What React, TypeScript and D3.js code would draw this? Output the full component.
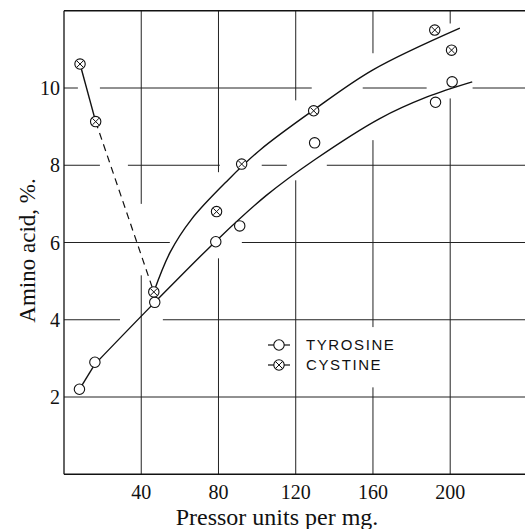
import React from "react";
import * as d3 from "d3";

// tick values
const xTicks = [40, 80, 120, 160, 200];
const yTicks = [2, 4, 6, 8, 10];

// measured points
const tyrosinePts: [number, number][] = [
  [8, 2.2], [16, 2.9], [47, 4.45], [78.6, 6.02], [91, 6.43],
  [129.8, 8.58], [192.4, 9.63], [201, 10.16],
];
const cystinePts: [number, number][] = [
  [8.3, 10.62], [16.4, 9.13], [46.5, 4.72], [79, 6.8], [92, 8.03],
  [129.3, 9.41], [192, 11.5], [200.7, 10.98],
];

// fitted curves as drawn
const tyrosineHead: [number, number][] = [[8, 2.2], [16, 2.85], [47, 4.45]];
const tyrosineCurve: [number, number][] = [
  [16, 2.85], [47, 4.45], [80, 6.1], [104.8, 7.22], [130, 8.15],
  [163.5, 9.21], [188, 9.77], [211.4, 10.16],
];
const cystineCurve: [number, number][] = [
  [46.5, 4.72], [55, 5.75], [66, 6.6], [85, 7.62], [101.4, 8.39],
  [129.3, 9.43], [160, 10.47], [205, 11.55],
];
const cystineSolidHead: [number, number][] = [[8.3, 10.62], [16.4, 9.13]];
const cystineDashed: [number, number][] = [[16.4, 9.13], [46.5, 4.72]];

// breaks in the printed grid (data units)
const hGridGaps: Record<number, [number, number][]> = {
  2: [],
  4: [[29, 51.2]],
  6: [[54.8, 92.1]],
  8: [[18.6, 33.1], [80.7, 102.4], [115.4, 136.1]],
  10: [[7.2, 18.6], [128.3, 154.7], [187.8, 211.6]],
};
const vGridGaps: Record<number, [number, number][]> = {
  40: [[5.15, 7.0]],
  80: [[5.59, 7.82]],
  120: [[7.61, 9.68]],
  160: [[2.25, 3.81], [8.65, 10.9]],
  200: [[9.73, 11.67]],
};

const legendItems = ["TYROSINE", "CYSTINE"];

const W = 525;
const H = 529;
const left = 64;
const top = 10.75;
const bottom = 474.25;

function segments(lo: number, hi: number, gaps: [number, number][]) {
  const out: [number, number][] = [];
  let s = lo;
  gaps.forEach(([a, b]) => {
    out.push([s, a]);
    s = b;
  });
  out.push([s, hi]);
  return out;
}

const Marker = ({ cx, cy, cross }: { cx: number; cy: number; cross: boolean }) => {
  const r = 5.2;
  const k = r * 0.62;
  return (
    <g>
      <circle cx={cx} cy={cy} r={r} fill="#fff" stroke="#111" strokeWidth={1.1} />
      {cross && (
        <path
          d={`M${cx - k},${cy - k}L${cx + k},${cy + k}M${cx - k},${cy + k}L${cx + k},${cy - k}`}
          stroke="#111"
          strokeWidth={1}
        />
      )}
    </g>
  );
};

export default function App() {
  const x = d3.scaleLinear().domain([0, 240]).range([left, left + 240 * 1.931]);
  const y = d3.scaleLinear().domain([0, 12]).range([bottom, top]);
  const xMax = x.invert(W);

  const curve = d3
    .line<[number, number]>()
    .x((d) => x(d[0]))
    .y((d) => y(d[1]))
    .curve(d3.curveCatmullRom.alpha(0.5));
  const straight = d3
    .line<[number, number]>()
    .x((d) => x(d[0]))
    .y((d) => y(d[1]));

  const serif = "'Liberation Serif', 'DejaVu Serif', serif";
  const ink = "#111";

  return (
    <svg
      width={W}
      height={H}
      style={{ position: "absolute", left: 0, top: 0, background: "#fff" }}
    >
      {/* grid */}
      <g stroke="#222" strokeWidth={1}>
        {yTicks.map((t) =>
          segments(0, xMax, hGridGaps[t]).map(([a, b], i) => (
            <line key={`h${t}-${i}`} x1={x(a)} x2={x(b)} y1={y(t)} y2={y(t)} />
          ))
        )}
        {xTicks.map((t) =>
          segments(0, 12, vGridGaps[t]).map(([a, b], i) => (
            <line key={`v${t}-${i}`} x1={x(t)} x2={x(t)} y1={y(a)} y2={y(b)} />
          ))
        )}
      </g>

      {/* frame: left, top, bottom */}
      <g stroke={ink} strokeWidth={1.3} fill="none">
        <line x1={left} x2={left} y1={top} y2={bottom} />
        <line x1={left} x2={W} y1={top} y2={top} />
        <line x1={left} x2={W} y1={bottom} y2={bottom} />
      </g>

      {/* curves */}
      <g fill="none" stroke={ink} strokeWidth={1.4}>
        <path d={straight(tyrosineHead.slice(0, 2)) || ""} />
        <path d={curve(tyrosineCurve) || ""} />
        <path d={curve(cystineCurve) || ""} />
        <path d={straight(cystineSolidHead) || ""} />
        <path d={straight(cystineDashed) || ""} strokeDasharray="7,5" strokeWidth={1.2} />
      </g>

      {/* points */}
      {tyrosinePts.map((d, i) => (
        <Marker key={`t${i}`} cx={x(d[0])} cy={y(d[1])} cross={false} />
      ))}
      {cystinePts.map((d, i) => (
        <Marker key={`c${i}`} cx={x(d[0])} cy={y(d[1])} cross={true} />
      ))}

      {/* tick labels */}
      <g fontFamily={serif} fontSize={20} fill={ink}>
        {yTicks.map((t) => (
          <text key={`yl${t}`} x={60} y={y(t)} dy="0.35em" textAnchor="end">
            {t}
          </text>
        ))}
        {xTicks.map((t) => (
          <text key={`xl${t}`} x={x(t)} y={499} textAnchor="middle">
            {t}
          </text>
        ))}
      </g>

      {/* axis titles */}
      <text
        x={277}
        y={525}
        textAnchor="middle"
        fontFamily={serif}
        fontSize={24}
        fill={ink}
      >
        Pressor units per mg.
      </text>
      <text
        transform={`translate(35,${(top + bottom) / 2 + 8}) rotate(-90)`}
        textAnchor="middle"
        fontFamily={serif}
        fontSize={23}
        fill={ink}
      >
        Amino acid, %.
      </text>

      {/* legend */}
      {legendItems.map((name, i) => {
        const ly = 345 + i * 20;
        const mx = 279;
        return (
          <g key={name}>
            <line x1={mx - 11} x2={mx + 11} y1={ly} y2={ly} stroke={ink} strokeWidth={1.2} />
            <Marker cx={mx} cy={ly} cross={i === 1} />
            <text
              x={306}
              y={ly}
              dy="0.36em"
              fontFamily="'Liberation Sans', 'DejaVu Sans', sans-serif"
              fontSize={15}
              letterSpacing={1.6}
              fill={ink}
            >
              {name}
            </text>
          </g>
        );
      })}
    </svg>
  );
}
